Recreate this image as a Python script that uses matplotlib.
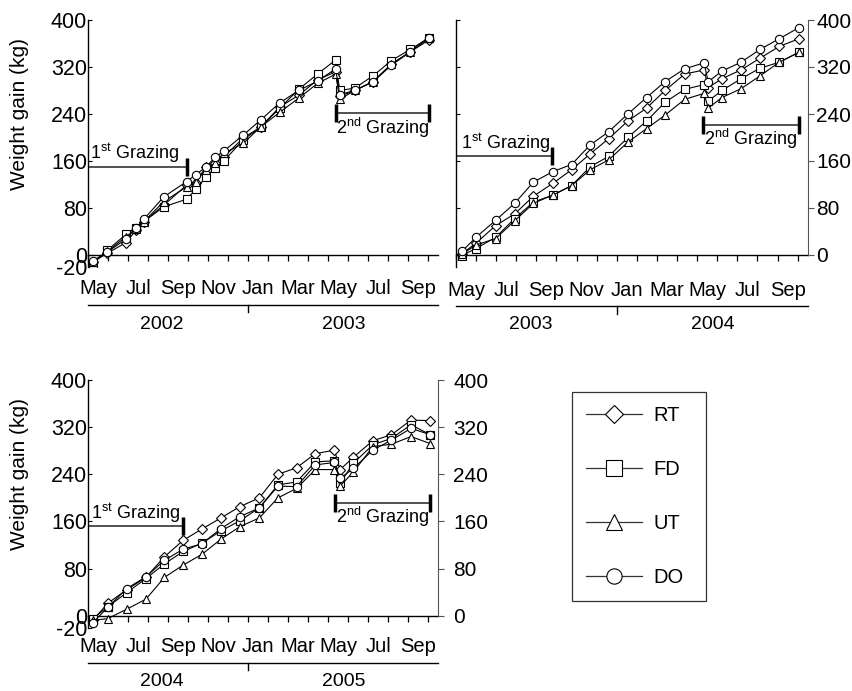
import matplotlib
matplotlib.use("Agg")
import matplotlib.pyplot as plt
from matplotlib.lines import Line2D

plt.rcParams['font.family'] = ['Liberation Sans', 'DejaVu Sans']
plt.rcParams['mathtext.fontset'] = 'custom'
plt.rcParams['mathtext.rm'] = 'Liberation Sans'
plt.rcParams['axes.unicode_minus'] = False

# months counted from 1 May of the first year
months = ["May", "Jul", "Sep", "Nov", "Jan", "Mar", "May", "Jul", "Sep"]
series = ["RT", "FD", "UT", "DO"]
markers = {"RT": "D", "FD": "s", "UT": "^", "DO": "o"}
yticks = [0, 80, 160, 240, 320, 400]

# panel 1: 2002-2003
x1 = [0.22, 0.95, 1.88, 2.38, 2.78, 3.78, 4.92, 5.38, 5.87, 6.33, 6.78, 7.75,
      8.63, 9.58, 10.53, 11.47, 12.38, 12.58, 13.33, 14.25, 15.17, 16.12, 17.05]
rt1 = [-12, 3, 21, 42, 57, 85, 119, 122, 150, 156, 167, 199, 218, 252, 272, 298, 312, 270, 280, 295, 325, 346, 366]
fd1 = [-15, 8, 35, 46, 57, 82, 95, 112, 132, 148, 160, 196, 218, 250, 282, 308, 332, 280, 284, 305, 331, 350, 370]
ut1 = [-12, 6, 31, 44, 57, 91, 116, 125, 145, 156, 173, 190, 218, 243, 267, 292, 308, 265, 280, 295, 325, 346, 370]
do1 = [-10, 5, 27, 46, 61, 99, 125, 137, 149, 166, 177, 204, 230, 259, 280, 296, 317, 273, 280, 295, 323, 346, 370]

# panel 2: 2003-2004
x2 = [0.29, 0.99, 1.97, 2.92, 3.85, 4.82, 5.75, 6.67, 7.6, 8.55, 9.48, 10.4,
      11.38, 12.34, 12.55, 13.23, 14.18, 15.13, 16.08, 17.06]
rt2 = [2, 20, 50, 70, 100, 122, 145, 172, 198, 228, 250, 280, 308, 315, 285, 300, 315, 335, 355, 368]
fd2 = [-1, 11, 30, 62, 90, 102, 118, 150, 168, 200, 228, 260, 282, 290, 262, 280, 300, 318, 328, 345]
ut2 = [1, 17, 28, 58, 88, 102, 118, 145, 162, 192, 215, 238, 265, 275, 250, 268, 283, 305, 328, 345]
do2 = [6, 30, 59, 88, 124, 142, 154, 187, 210, 240, 268, 295, 317, 327, 295, 313, 328, 350, 368, 387]

# panel 3: 2004-2005
x3 = [0.22, 0.97, 1.92, 2.88, 3.81, 4.75, 5.68, 6.64, 7.58, 8.56, 9.49, 10.42,
      11.36, 12.32, 12.6, 13.27, 14.24, 15.17, 16.15, 17.12]
rt3 = [-8, 21, 44, 65, 100, 128, 147, 166, 185, 200, 240, 251, 275, 281, 248, 269, 297, 307, 332, 331]
fd3 = [-5, 15, 39, 63, 88, 109, 123, 144, 161, 183, 222, 227, 261, 263, 225, 259, 290, 301, 324, 307]
ut3 = [-8, -5, 11, 28, 65, 86, 104, 130, 151, 166, 200, 216, 248, 248, 220, 244, 287, 291, 304, 292]
do3 = [-12, 14, 46, 66, 94, 113, 122, 148, 168, 183, 220, 219, 256, 260, 233, 250, 281, 298, 318, 307]

# grazing periods: (start, end, y of line, text x, text y)
graze1 = [(0, 4.95, 150, 2.33, 173), (12.38, 17.05, 241, 14.75, 216)]
graze2 = [(0, 4.79, 168, 2.47, 190), (12.27, 17.06, 221, 14.66, 197)]
graze3 = [(0, 4.75, 153, 2.37, 174), (12.34, 17.12, 192, 14.75, 168)]

years1 = ["2002", "2003"]
years2 = ["2003", "2004"]
years3 = ["2004", "2005"]
year_pos = [3.7, 12.8]

fig = plt.figure(figsize=(8.52, 6.91), dpi=100)
W, H = 852.0, 691.0


def make_axes(left, top_px, right, bottom_px):
    return fig.add_axes([left / W, 1 - bottom_px / H, (right - left) / W, (bottom_px - top_px) / H])


def panel(ax, x, data, graze, years, left_labels, right_axis, right_pad, mlab_y, yline_y, ylab_y):
    for name, vals in zip(series, data):
        ax.plot(x, vals, color='black', lw=0.8, marker=markers[name],
                ms=6 if markers[name] != 'D' else 5, mfc='white', mec='black', mew=0.8,
                zorder=3)
    ax.set_xlim(0, 17.5)
    ax.set_ylim(-20, 400)
    ax.spines['top'].set_visible(False)
    ax.spines['right'].set_visible(False)
    ax.spines['bottom'].set_position(('data', 0))
    for s in ax.spines.values():
        s.set_linewidth(1.0)

    ax.set_xticks(range(0, 18))
    ax.set_xticklabels([])
    ax.tick_params(axis='x', which='major', direction='out', length=4, width=0.9)
    for i, m in enumerate(months):
        ax.text(i * 2 + 0.5, mlab_y, m, transform=ax.get_xaxis_transform(),
                ha='center', va='center', fontsize=14.5)

    if left_labels:
        ax.set_yticks([-20] + yticks)
        ax.tick_params(axis='y', labelsize=15.5, direction='in', length=3, pad=1)
        ax.set_ylabel("Weight gain (kg)", fontsize=15)
        ax.yaxis.set_label_coords(-0.17, 0.62)
    else:
        ax.set_yticks(yticks)
        ax.tick_params(axis='y', direction='in', length=3, labelleft=False)

    if right_axis:
        tw = ax.twinx()
        tw.set_ylim(-20, 400)
        tw.set_yticks(yticks)
        for side in ['top', 'left', 'bottom']:
            tw.spines[side].set_visible(False)
        tw.spines['right'].set_bounds(0, 400)
        tw.spines['right'].set_color('#555555')
        tw.tick_params(axis='y', labelsize=15, direction='out', length=4,
                       color='#555555', pad=right_pad)

    # year axis
    ax.plot([0, 1], [yline_y, yline_y], transform=ax.transAxes, color='black',
            lw=1.0, clip_on=False)
    ax.plot([8, 8], [yline_y, yline_y - 0.03], transform=ax.get_xaxis_transform(),
            color='black', lw=1.0, clip_on=False)
    for yr, p in zip(years, year_pos):
        ax.text(p, ylab_y, yr, transform=ax.get_xaxis_transform(), ha='center',
                va='center', fontsize=14)

    # grazing periods
    (s1, e1, y1, tx1, ty1), (s2, e2, y2, tx2, ty2) = graze
    ax.plot([s1, e1], [y1, y1], color='#333333', lw=1.2, zorder=2)
    ax.plot([e1], [y1], marker='|', ms=13, mew=2.5, color='black', zorder=2)
    ax.text(tx1, ty1, r"1$^{\mathrm{st}}$ Grazing", ha='center', va='center', fontsize=13)
    ax.plot([s2, e2], [y2, y2], color='#333333', lw=1.2, zorder=2)
    ax.plot([s2, e2], [y2, y2], marker='|', ms=13, mew=2.5, lw=0, color='black', zorder=2)
    ax.text(tx2, ty2, r"2$^{\mathrm{nd}}$ Grazing", ha='center', va='center', fontsize=13)


ax1 = make_axes(88.3, 20, 438, 266.75)
ax2 = make_axes(456, 20, 807.7, 266.75)
ax3 = make_axes(88.3, 380, 438, 627.5)

panel(ax1, x1, [rt1, fd1, ut1, do1], graze1, years1, True, False, 4, -0.087, -0.155, -0.236)
panel(ax2, x2, [rt2, fd2, ut2, do2], graze2, years2, False, True, 2, -0.095, -0.16, -0.236)
panel(ax3, x3, [rt3, fd3, ut3, do3], graze3, years3, True, True, 7, -0.075, -0.143, -0.22)

handles = [Line2D([], [], color='#333333', lw=0.9, marker=markers[n], mfc='white',
                  mec='black', mew=0.8, ms=11 if markers[n] != 'D' else 9.5) for n in series]
leg = fig.legend(handles, series, loc='upper left',
                 bbox_to_anchor=(572 / W, 1 - 392 / H, 134 / W, 0.0),
                 mode='expand', frameon=True, fancybox=False, edgecolor='black',
                 fontsize=14.5, handlelength=2.8, handletextpad=0.55,
                 labelspacing=1.75, borderpad=0.68, borderaxespad=0)
leg.get_frame().set_linewidth(0.9)

fig.savefig("out.png", dpi=100)
